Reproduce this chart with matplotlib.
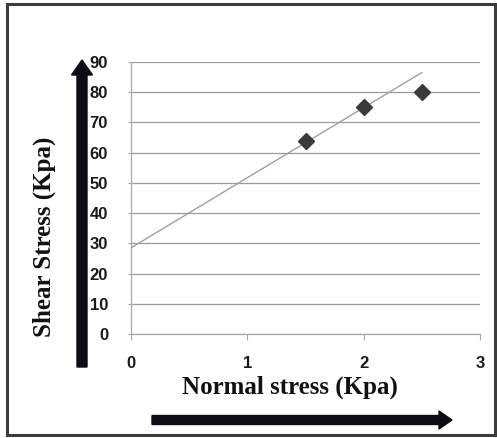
import matplotlib
matplotlib.use("Agg")
import matplotlib.pyplot as plt
from matplotlib.patches import FancyArrow, Rectangle

# data
normal_stress = [1.5, 2.0, 2.5]
shear_stress = [64, 75, 80]
trend_x = [0.0, 2.5]
trend_y = [28.5, 86.5]
x_ticks = [0, 1, 2, 3]
x_ticklabels = ["0", "1", "2", "3"]
y_ticks = [0, 10, 20, 30, 40, 50, 60, 70, 80, 90]

W, H = 497, 438
fig = plt.figure(figsize=(W / 100, H / 100), dpi=100)
fig.patch.set_facecolor("white")

tick_font = ["Liberation Sans", "DejaVu Sans"]
label_font = ["Liberation Serif", "DejaVu Serif"]

# main plot area (pixel box 131..480 x 62..334)
ax = fig.add_axes([131 / W, 1 - 334 / H, 349 / W, 272 / H])
ax.set_xlim(0, 3)
ax.set_ylim(0, 90)
ax.set_facecolor("none")

ax.plot(trend_x, trend_y, color="#a0a0a0", lw=1.0, zorder=2)
ax.plot(normal_stress, shear_stress, linestyle="none", marker="D",
        markersize=8.5, color="#3a3a3a", zorder=3)

ax.set_yticks(y_ticks)
ax.set_xticks(x_ticks)
ax.set_xticklabels(x_ticklabels)
ax.grid(axis="y", color="#9a9a9a", lw=0.9)
ax.grid(axis="x", visible=False)
ax.set_axisbelow(True)

for s in ["top", "right"]:
    ax.spines[s].set_visible(False)
for s in ["left", "bottom"]:
    ax.spines[s].set_color("#a8a8a8")
    ax.spines[s].set_linewidth(0.9)

ax.tick_params(axis="y", direction="inout", length=5, color="#a8a8a8",
               pad=14, labelsize=12)
ax.tick_params(axis="x", direction="out", length=4, color="#a8a8a8",
               pad=12, labelsize=12)
for lab in ax.get_yticklabels() + ax.get_xticklabels():
    lab.set_fontfamily(tick_font)
    lab.set_fontweight("bold")
    lab.set_color("#1a1a1a")

fig.text(290 / W, 1 - 387 / H, "Normal stress (Kpa)", ha="center", va="center",
         family=label_font, fontweight="bold", fontsize=18, color="#111111")
fig.text(44 / W, 1 - 237 / H, "Shear Stress (Kpa)", ha="center", va="center",
         rotation=90, family=label_font, fontweight="bold", fontsize=18,
         color="#111111")

# overlay in pixel coords for frame and arrows
ov = fig.add_axes([0, 0, 1, 1], zorder=-1)
ov.set_xlim(0, W)
ov.set_ylim(H, 0)
ov.axis("off")
ov.add_patch(Rectangle((7, 4), 488, 431, fill=False, ec="#3c3c3c", lw=2.2))

ov.add_patch(FancyArrow(82, 367, 0, -307, width=10, head_width=21,
                        head_length=15, length_includes_head=True,
                        color="#0c0c14"))
ov.add_patch(FancyArrow(152, 420, 300, 0, width=9, head_width=18,
                        head_length=13, length_includes_head=True,
                        color="#0c0c14"))

fig.savefig("out.png", dpi=100)
